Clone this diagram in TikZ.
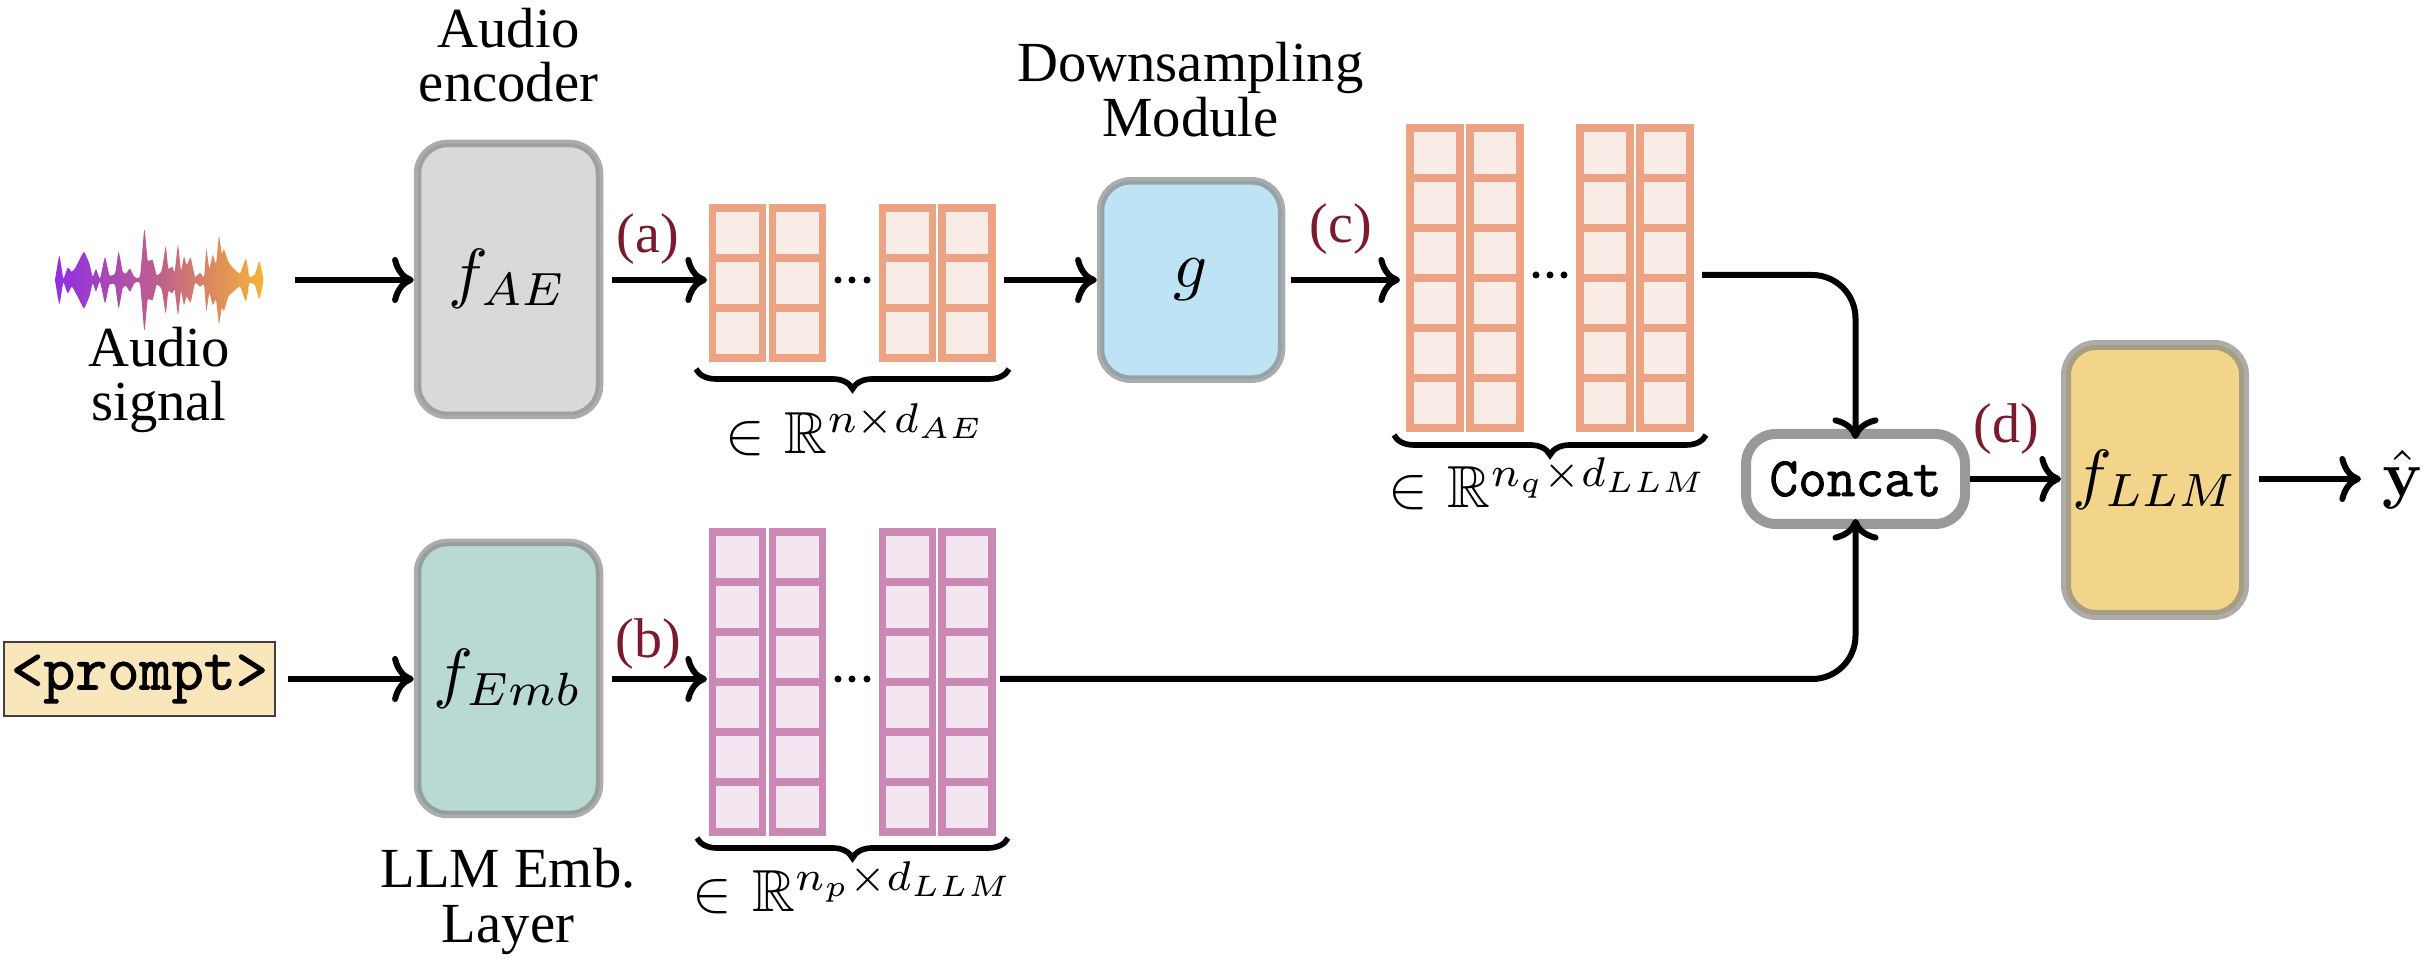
\documentclass[tikz,border=0pt]{standalone}
\usepackage[no-math]{fontspec}
\usepackage{amsmath,amssymb}
\setmainfont{Liberation Serif}
\newfontfamily\monosemi{Latin Modern Mono}[FakeBold=1.6]
\usetikzlibrary{arrows.meta,decorations.pathreplacing}
\definecolor{arrowstroke}{HTML}{EBA384}
\definecolor{arrowfill}{HTML}{F9ECE7}
\definecolor{pinkstroke}{HTML}{CC88B5}
\definecolor{pinkfill}{HTML}{F4E6F0}
\definecolor{tagred}{HTML}{7A1A2E}
\definecolor{aefill}{HTML}{D9D9D9}
\definecolor{gfill}{HTML}{BDE3F5}
\definecolor{embfill}{HTML}{B9D9D4}
\definecolor{llmfill}{HTML}{F2D58A}
\definecolor{promptfill}{HTML}{F9E6BB}
\definecolor{wavea}{HTML}{8F2DE8}
\definecolor{waveb}{HTML}{C0608A}
\definecolor{wavec}{HTML}{F5B335}
\tikzset{
  block/.style={rectangle,rounded corners=9pt,draw=black!50,draw opacity=.65,line width=2.25pt,inner sep=0pt,minimum width=54.6pt},
  sizedbox/.style={rectangle,inner sep=0pt,outer sep=0pt,minimum width=#1},
  flow/.style={line width=1.8pt,-{Computer Modern Rightarrow[length=6.5pt,width=13.8pt]}},
  caption/.style={align=center,font=\fontsize{17}{16.5}\selectfont,inner sep=0pt},
  tag/.style={text=tagred,font=\fontsize{16.8}{18}\selectfont,inner sep=0pt},
  mathtag/.style={scale=2,inner sep=0pt},
  dimtag/.style={scale=1.78,inner sep=0pt,anchor=base},
  bracket/.style={line width=1.7pt,decorate,decoration={brace,amplitude=6pt,aspect=.5}},
  cellline/.style={line width=2.2pt,line join=miter},
  dotmark/.style={circle,fill=black,inner sep=0pt,minimum size=2.1pt}
}
\newcommand{\cellcolumns}[5]{%
  \foreach \cx in {#1}{\foreach \rw in {1,...,#3}{
    \draw[cellline,draw=#5,fill=#4] (\cx,{#2+50*(\rw-1)}) rectangle ++(50,50);
  }}}
\begin{document}
\begin{tikzpicture}[x=.3pt,y=-.3pt]
\useasboundingbox (0,0) rectangle (2428,962);

% waveform
\begin{scope}[shift={(0,100)},x=.1pt,y=-.1pt]
\path[left color=wavea,right color=wavec,middle color=waveb]
 plot[smooth,tension=.3] coordinates {(165,540)(178,468)(190,535)(203,503)(215,515)(225,505)(238,480)(252,456)(268,490)(278,530)(288,507)(300,535)(315,472)(328,525)(345,520)(356,456)(368,515)(378,520)(390,506)(403,530)(420,528)(433,388)(443,480)(458,480)(470,525)(485,512)(497,440)(505,505)(517,500)(524,515)(534,435)(543,510)(552,470)(560,495)(572,473)(585,530)(600,518)(612,530)(619,448)(628,505)(638,465)(648,490)(657,408)(665,460)(672,448)(685,485)(700,505)(720,520)(738,475)(748,530)(765,522)(778,484)(790,540)(778,597)(765,556)(748,550)(738,605)(720,560)(700,575)(685,590)(672,632)(665,625)(657,672)(648,600)(638,615)(628,580)(619,632)(612,555)(600,560)(585,550)(572,607)(560,590)(552,615)(543,575)(534,645)(524,570)(517,580)(505,575)(497,640)(485,568)(470,555)(458,600)(443,600)(433,692)(420,552)(403,550)(390,575)(378,558)(368,565)(356,625)(345,555)(328,555)(315,610)(300,545)(288,575)(278,550)(268,590)(252,625)(238,600)(225,575)(215,560)(203,580)(190,548)(178,612)(165,540)} -- cycle;
\end{scope}
\node[sizedbox=62.4pt,minimum height=30pt] (wave) at (159,280) {};

% grids
\cellcolumns{712.5,772.5,882.5,942}{208}{3}{arrowfill}{arrowstroke}
\cellcolumns{1410,1470,1580,1640}{128}{6}{arrowfill}{arrowstroke}
\cellcolumns{712.5,772.5,882.5,942}{532}{6}{pinkfill}{pinkstroke}
\node[sizedbox=85.8pt,minimum height=46.8pt] (arrone) at (852,283) {};
\node[sizedbox=85.8pt,minimum height=91.8pt] (arrtwo) at (1550,278) {};
\node[sizedbox=85.8pt,minimum height=91.5pt] (arrpink) at (852,681.5) {};
\foreach \nm/\dx/\dy in {a/838/280,b/852/280,c/867/280,d/1536/275,e/1550/275,f/1564/275,g/838/679,h/852/679,i/867/679}{
  \node[dotmark] (dot\nm) at (\dx,\dy) {};
}

% blocks
\node[block,fill=aefill,minimum height=81.6pt] (fae) at (508.5,279.5) {};
\node[block,fill=gfill,minimum width=54.3pt,minimum height=59.5pt] (gbox) at (1191,280) {};
\node[block,fill=embfill,minimum height=81.6pt] (femb) at (508.5,678.5) {};
\node[block,line width=3pt,fill=llmfill,minimum width=53.4pt,minimum height=81pt] (fllm) at (2155,480) {};
\node[rectangle,rounded corners=9pt,draw=black!40,fill=white,line width=3pt,inner sep=0pt,minimum width=65.7pt,minimum height=27pt] (concat) at (1855.5,479) {};
\node[rectangle,draw=black!75,line width=.35pt,fill=promptfill,inner sep=0pt,minimum width=81.3pt,minimum height=22.2pt] (prompt) at (139.5,679) {\fontsize{18.7}{20}\selectfont\monosemi <prompt>};

\node[mathtag] (laeb) at (507.5,279) {$f_{AE}$};
\node[mathtag] (lg) at (1191,280) {$g$};
\node[mathtag] (lemb) at (508,679) {$f_{Emb}$};
\node[mathtag] (lllm) at (2155,480) {$f_{LLM}$};
\node[inner sep=0pt] (lconcat) at (concat.center) {\fontsize{16.7}{18}\selectfont\monosemi Concat};
\node[scale=1.95,inner sep=0pt] (yhat) at (2402.5,479.5) {$\hat{\mathbf{y}}$};

% captions
\node[caption,anchor=base] (capae) at (508.5,48) {Audio};
\node[caption,anchor=base] (capaeb) at (508.5,102) {encoder};
\node[caption,anchor=base] (capd) at (1190.5,82) {Downsampling};
\node[caption,anchor=base] (capdb) at (1190.5,137) {Module};
\node[caption,anchor=base] (capw) at (159,367) {Audio};
\node[caption,anchor=base] (capwb) at (159,421) {signal};
\node[caption,anchor=base] (cape) at (508,888) {LLM Emb.};
\node[caption,anchor=base] (capeb) at (508,943) {Layer};

\node[tag] (ta) at (648,239) {(a)};
\node[tag] (tb) at (648,644) {(b)};
\node[tag] (tc) at (1341,229.5) {(c)};
\node[tag] (td) at (2006,429) {(d)};

% dimension labels
\node[dimtag] (dimae) at (856,454) {$\in\mspace{1mu}\mathbb{R}^{n\times d_{AE}}$};
\node[dimtag] (dimq) at (1549,508) {$\in\mspace{1mu}\mathbb{R}^{n_q\times d_{LLM}}$};
\node[dimtag] (dimp) at (854,912) {$\in\mspace{1mu}\mathbb{R}^{n_p\times d_{LLM}}$};

% braces
\coordinate (braa) at (1009,369); \coordinate (brab) at (696,369);
\coordinate (brba) at (1706,435); \coordinate (brbb) at (1394,435);
\coordinate (brca) at (1008,838); \coordinate (brcb) at (697,838);
\draw[bracket] (braa) -- (brab);
\draw[bracket] (brba) -- (brbb);
\draw[bracket] (brca) -- (brcb);

% connectors
\coordinate (outtwo) at (1693,275);
\coordinate (outpink) at (995,679);
\coordinate (yin) at (2361,479);
\draw[flow,shorten <=9.6pt] (wave.east) -- (wave.east -| fae.west);
\draw[flow,shorten <=2.7pt,shorten >=.6pt] (fae.east |- wave.east) -- (arrone.west |- wave.east);
\draw[flow,shorten <=2.7pt] (arrone.east |- wave.east) -- (gbox.west |- wave.east);
\draw[flow,shorten <=1.8pt,shorten >=2.1pt] (gbox.east |- wave.east) -- (arrtwo.west |- wave.east);
\draw[flow,shorten <=3.6pt] (prompt.east) -- (prompt.east -| femb.west);
\draw[flow,shorten <=2.7pt,shorten >=.6pt] (femb.east |- outpink) -- (arrpink.west |- outpink);
\draw[flow,rounded corners=13pt,shorten <=2.7pt,shorten >=-3pt] (outtwo) -| (concat.north);
\draw[flow,rounded corners=13pt,shorten <=1.5pt,shorten >=-3pt] (outpink) -| (concat.south);
\draw[flow] (concat.east) -- (concat.east -| fllm.west);
\draw[flow,shorten <=3pt] (fllm.east |- concat.east) -- (yin);
\end{tikzpicture}
\end{document}
